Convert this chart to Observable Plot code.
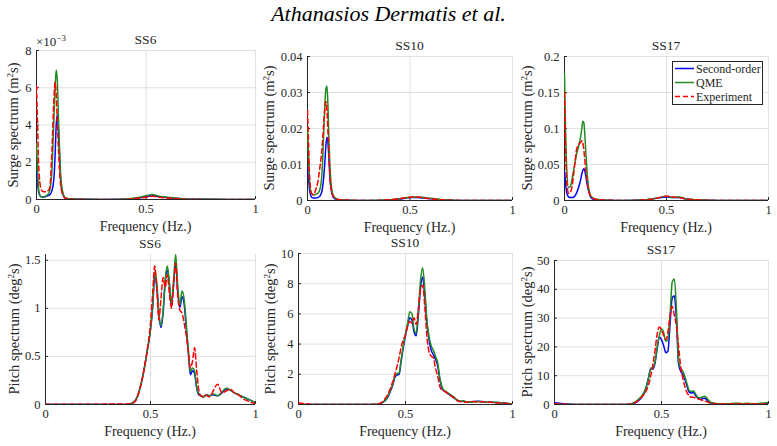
<!DOCTYPE html>
<html>
<head>
<meta charset="utf-8">
<script src="https://cdn.jsdelivr.net/npm/d3@7"></script>
<script src="https://cdn.jsdelivr.net/npm/@observablehq/plot@0.6"></script>
<style>
  body { margin: 0; background: #fff; }
  #fig { position: relative; width: 777px; height: 446px; overflow: hidden; background: #fff;
         font-family: "Liberation Serif", serif; color: #262626; }
  .txt { position: absolute; white-space: nowrap; line-height: 1; transform: translate(-50%, -50%); }
  .ylab { transform: translate(-50%, -50%) rotate(-90deg); }
  .panel { position: absolute; }
  .legend { position: absolute; box-sizing: border-box; background: #fff; border: 1px solid #262626; }
</style>
</head>
<body>
<div id="fig"></div>
<script>
// ---- Surge spectra (top row) ----
const fSurge = [0, 0.005, 0.01, 0.02, 0.03, 0.04, 0.05, 0.06, 0.07, 0.08, 0.085, 0.09, 0.095, 0.1, 0.105, 0.11, 0.12, 0.13, 0.15, 0.2, 0.3, 0.4, 0.45, 0.5, 0.53, 0.56, 0.6, 0.65, 0.7, 0.8, 0.9, 1.0];

// SS6 surge, in units of 1e-3 m^2 s
const ss6SurgeSecond = [1.5, 0.9, 0.4, 0.15, 0.12, 0.15, 0.2, 0.25, 0.45, 1.2, 2.4, 4.0, 4.55, 3.8, 2.4, 1.1, 0.3, 0.08, 0.03, 0.01, 0, 0.01, 0.05, 0.15, 0.2, 0.15, 0.1, 0.05, 0.02, 0.01, 0.005, 0];
const ss6SurgeQME    = [3.0, 1.5, 0.5, 0.15, 0.12, 0.18, 0.25, 0.45, 1.5, 4.5, 6.0, 6.95, 6.4, 4.5, 2.8, 1.4, 0.4, 0.12, 0.04, 0.01, 0, 0.02, 0.08, 0.2, 0.27, 0.18, 0.12, 0.06, 0.02, 0.01, 0.005, 0];
const ss6SurgeExp    = [6.1, 4.0, 1.8, 0.6, 0.42, 0.42, 0.45, 0.6, 2.5, 5.5, 6.3, 5.6, 4.2, 2.8, 1.6, 0.8, 0.25, 0.08, 0.03, 0.01, 0, 0.01, 0.05, 0.12, 0.17, 0.12, 0.08, 0.04, 0.01, 0.005, 0, 0];

// SS10 surge, m^2 s
const ss10SurgeSecond = [0.009, 0.006, 0.003, 0.0009, 0.0007, 0.0007, 0.0008, 0.0012, 0.0025, 0.007, 0.011, 0.0155, 0.0176, 0.016, 0.011, 0.006, 0.0018, 0.0006, 0.0002, 0.0001, 0, 0.0001, 0.0004, 0.0008, 0.0008, 0.0007, 0.0005, 0.0002, 0.0001, 0, 0, 0];
const ss10SurgeQME    = [0.02, 0.012, 0.005, 0.0018, 0.0015, 0.0017, 0.002, 0.003, 0.007, 0.02, 0.027, 0.031, 0.0318, 0.026, 0.016, 0.009, 0.0025, 0.001, 0.0003, 0.0001, 0, 0.0002, 0.0005, 0.0009, 0.001, 0.0009, 0.0006, 0.0003, 0.0001, 0, 0, 0];
const ss10SurgeExp    = [0.025, 0.016, 0.007, 0.002, 0.0016, 0.003, 0.005, 0.009, 0.014, 0.022, 0.026, 0.0275, 0.025, 0.019, 0.012, 0.006, 0.002, 0.0008, 0.0003, 0.0001, 0, 0.0002, 0.0005, 0.0009, 0.001, 0.0008, 0.0005, 0.0002, 0.0001, 0, 0, 0];

// SS17 surge, m^2 s
const ss17SurgeSecond = [0.04, 0.025, 0.012, 0.005, 0.004, 0.004, 0.006, 0.011, 0.019, 0.03, 0.037, 0.042, 0.044, 0.041, 0.033, 0.024, 0.011, 0.004, 0.001, 0.0003, 0, 0.001, 0.003, 0.005, 0.004, 0.004, 0.002, 0.0008, 0.0003, 0, 0, 0];
const ss17SurgeQME    = [0.176, 0.1, 0.05, 0.018, 0.02, 0.035, 0.05, 0.065, 0.076, 0.09, 0.1, 0.11, 0.108, 0.09, 0.065, 0.042, 0.015, 0.006, 0.002, 0.0005, 0, 0.001, 0.003, 0.006, 0.004, 0.005, 0.002, 0.001, 0.0003, 0, 0, 0];
const ss17SurgeExp    = [0.15, 0.08, 0.03, 0.01, 0.012, 0.025, 0.05, 0.072, 0.078, 0.081, 0.083, 0.08, 0.07, 0.055, 0.04, 0.028, 0.012, 0.005, 0.002, 0.0005, 0, 0.001, 0.003, 0.006, 0.005, 0.004, 0.002, 0.001, 0.0003, 0, 0, 0];

// ---- Pitch spectra (bottom row), deg^2 s ----
const fPitch = [0, 0.1, 0.2, 0.3, 0.35, 0.36, 0.37, 0.38, 0.39, 0.40,
                0.41, 0.42, 0.43, 0.44, 0.45, 0.46, 0.47, 0.48, 0.49, 0.50,
                0.51, 0.52, 0.53, 0.54, 0.55, 0.56, 0.57, 0.58, 0.59, 0.60,
                0.61, 0.62, 0.63, 0.64, 0.65, 0.66, 0.67, 0.68, 0.69, 0.70,
                0.71, 0.72, 0.73, 0.74, 0.75, 0.76, 0.77, 0.78, 0.79, 0.80,
                0.82, 0.84, 0.86, 0.88, 0.90, 0.92, 0.94, 0.96, 0.98, 1.0];

const ss6PitchSecond = [0, 0, 0, 0, 0, 0, 0, 0.001, 0.002, 0.005,
                        0.012, 0.025, 0.05, 0.1, 0.17, 0.26, 0.37, 0.5, 0.63, 0.78,
                        1.0, 1.33, 1.22, 0.93, 0.8, 0.95, 1.27, 1.4, 1.24, 1.02,
                        1.25, 1.48, 1.16, 1.01, 1.12, 1.05, 0.8, 0.54, 0.31, 0.35,
                        0.32, 0.17, 0.1, 0.09, 0.08, 0.09, 0.1, 0.09, 0.1, 0.1,
                        0.09, 0.12, 0.16, 0.15, 0.12, 0.1, 0.08, 0.06, 0.04, 0.02];
const ss6PitchQME    = [0, 0, 0, 0, 0, 0, 0, 0.001, 0.002, 0.005,
                        0.012, 0.025, 0.05, 0.1, 0.17, 0.26, 0.37, 0.5, 0.63, 0.78,
                        1.02, 1.38, 1.27, 0.95, 0.82, 0.98, 1.3, 1.44, 1.27, 1.05,
                        1.3, 1.56, 1.22, 1.04, 1.18, 1.1, 0.85, 0.57, 0.34, 0.38,
                        0.35, 0.18, 0.11, 0.09, 0.08, 0.09, 0.1, 0.09, 0.1, 0.11,
                        0.09, 0.13, 0.17, 0.15, 0.12, 0.1, 0.08, 0.06, 0.04, 0.02];
const ss6PitchExp    = [0.002, 0.002, 0.003, 0.004, 0.004, 0.004, 0.005, 0.004, 0.005, 0.007,
                        0.01, 0.02, 0.04, 0.09, 0.17, 0.26, 0.37, 0.5, 0.65, 0.85,
                        1.15, 1.44, 1.2, 0.88, 1.1, 1.32, 1.22, 1.35, 1.15, 1.0,
                        1.25, 1.47, 1.12, 0.98, 0.95, 0.85, 0.72, 0.55, 0.38, 0.45,
                        0.59, 0.35, 0.15, 0.09, 0.08, 0.1, 0.09, 0.08, 0.1, 0.15,
                        0.21, 0.12, 0.14, 0.16, 0.12, 0.1, 0.06, 0.04, 0.02, 0.01];

const ss10PitchSecond = [0, 0, 0, 0, 0, 0, 0.02, 0.05, 0.11, 0.2,
                         0.33, 0.55, 0.9, 1.25, 1.8, 1.95, 2.0, 2.9, 3.8, 4.6,
                         5.2, 5.75, 5.6, 4.8, 4.55, 5.9, 7.7, 8.45, 7.2, 5.4,
                         4.3, 3.6, 3.3, 3.0, 2.6, 1.7, 1.1, 0.9, 0.8, 0.7,
                         0.6, 0.5, 0.4, 0.28, 0.22, 0.2, 0.22, 0.18, 0.15, 0.15,
                         0.2, 0.22, 0.18, 0.15, 0.15, 0.14, 0.12, 0.1, 0.06, 0.04];
const ss10PitchQME    = [0, 0, 0, 0, 0, 0, 0.02, 0.05, 0.12, 0.22,
                         0.35, 0.6, 0.95, 1.3, 1.85, 2.05, 2.1, 3.0, 3.9, 4.7,
                         5.4, 6.15, 6.0, 5.0, 4.7, 6.2, 8.2, 9.05, 7.7, 5.6,
                         4.5, 3.9, 3.6, 3.2, 2.8, 1.8, 1.2, 0.95, 0.85, 0.75,
                         0.65, 0.55, 0.45, 0.3, 0.25, 0.22, 0.25, 0.2, 0.15, 0.15,
                         0.18, 0.2, 0.18, 0.15, 0.15, 0.15, 0.12, 0.1, 0.06, 0.04];
const ss10PitchExp    = [0.1, 0, 0, 0, 0.01, 0.02, 0.04, 0.08, 0.15, 0.3,
                         0.5, 0.75, 1.1, 1.5, 2.0, 2.5, 3.1, 3.8, 4.3, 4.6,
                         5.2, 5.5, 5.4, 5.75, 5.3, 6.3, 7.6, 7.9, 6.5, 4.5,
                         3.5, 3.2, 3.1, 2.4, 1.9, 1.2, 0.95, 0.9, 0.8, 0.7,
                         0.6, 0.5, 0.4, 0.3, 0.2, 0.2, 0.18, 0.15, 0.15, 0.2,
                         0.2, 0.15, 0.2, 0.15, 0.15, 0.1, 0.1, 0.08, 0.05, 0.03];

const ss17PitchSecond = [0.6, 0, 0, 0, 0.1, 0.2, 0.4, 0.7, 1.2, 1.8,
                         2.8, 4.2, 6.3, 9.5, 12.5, 12.3, 14.5, 19.5, 23.4, 22.5,
                         20.5, 18, 18.5, 28, 37, 37.8, 29, 14, 11.5, 10.5,
                         8.5, 6.2, 4.2, 4.0, 4.2, 3.0, 2.2, 1.8, 2.0, 2.2,
                         1.8, 1.0, 0.6, 0.4, 0.3, 0.3, 0.3, 0.3, 0.3, 0.3,
                         0.3, 0.3, 0.3, 0.3, 0.3, 0.3, 0.3, 0.3, 0.3, 0.4];
const ss17PitchQME    = [0.3, 0, 0, 0, 0.1, 0.3, 0.6, 1.0, 1.6, 2.3,
                         3.2, 4.5, 6.5, 9.5, 12.5, 12.8, 15, 20, 24, 26.2,
                         25, 22, 22.5, 31, 42.5, 43.6, 33, 15, 12.5, 11.5,
                         9.5, 7.0, 4.8, 4.5, 4.8, 3.5, 2.5, 2.3, 2.6, 2.9,
                         2.4, 1.5, 0.8, 0.5, 0.4, 0.3, 0.3, 0.3, 0.3, 0.3,
                         0.3, 0.4, 0.4, 0.3, 0.4, 0.3, 0.3, 0.4, 0.5, 0.7];
const ss17PitchExp    = [0.3, 0, 0, 0, 0.1, 0.2, 0.4, 0.8, 1.3, 2.0,
                         2.8, 3.7, 5.0, 7.0, 10.0, 14.0, 19.0, 24.5, 26.9, 26.0,
                         24.0, 22.5, 25.0, 31.0, 34.0, 31.0, 27.0, 20.0, 13.0, 9.0,
                         6.0, 4.0, 3.0, 2.5, 2.5, 2.2, 2.0, 1.7, 1.5, 1.3,
                         1.0, 0.7, 0.5, 0.4, 0.3, 0.3, 0.3, 0.3, 0.2, 0.2,
                         0.2, 0.3, 0.2, 0.3, 0.2, 0.3, 0.2, 0.2, 0.2, 0.2];

// ---- Labels and ticks ----
const seriesNames = ["Second-order", "QME", "Experiment"];
const seriesColors = ["#0000ff", "#228b22", "#ff0000"];
const xTicks = [0, 0.5, 1];
const heading = "Athanasios Dermatis et al.";
const xLabel = "Frequency (Hz.)";
const surgeLabel = "Surge spectrum (m²s)";
const pitchLabel = "Pitch spectrum (deg²s)";

const fmt = d3.format("~g");
const serifFont = '"Liberation Serif", serif';

// Axes boxes in page pixels: [left, right, top, bottom]
const panels = [
  {title: "SS6",  ylabel: surgeLabel, f: fSurge, series: [ss6SurgeSecond, ss6SurgeQME, ss6SurgeExp],
   yDomain: [0, 8], yTicks: [0, 2, 4, 6, 8], box: [36, 255, 50, 199], ylabX: 13},
  {title: "SS10", ylabel: surgeLabel, f: fSurge, series: [ss10SurgeSecond, ss10SurgeQME, ss10SurgeExp],
   yDomain: [0, 0.04], yTicks: [0, 0.01, 0.02, 0.03, 0.04], box: [307, 512, 56, 200], ylabX: 268.5},
  {title: "SS17", ylabel: surgeLabel, f: fSurge, series: [ss17SurgeSecond, ss17SurgeQME, ss17SurgeExp],
   yDomain: [0, 0.2], yTicks: [0, 0.05, 0.1, 0.15, 0.2], box: [564, 768, 56, 200], ylabX: 526.5, legend: true},
  {title: "SS6",  ylabel: pitchLabel, f: fPitch, series: [ss6PitchSecond, ss6PitchQME, ss6PitchExp],
   yDomain: [0, d3.max([ss6PitchSecond, ss6PitchQME, ss6PitchExp].flat())], yTicks: [0, 0.5, 1, 1.5], box: [45, 255, 254, 404], ylabX: 14},
  {title: "SS10", ylabel: pitchLabel, f: fPitch, series: [ss10PitchSecond, ss10PitchQME, ss10PitchExp],
   yDomain: [0, 10], yTicks: [0, 2, 4, 6, 8, 10], box: [298, 512, 253, 404], ylabX: 270},
  {title: "SS17", ylabel: pitchLabel, f: fPitch, series: [ss17PitchSecond, ss17PitchQME, ss17PitchExp],
   yDomain: [0, 50], yTicks: [0, 10, 20, 30, 40, 50], box: [554, 768, 260, 404], ylabX: 527}
];

const fig = document.getElementById("fig");

function addText(text, x, y, size, cls = "", extra = "") {
  const el = document.createElement("div");
  el.className = "txt " + cls;
  el.style.left = x + "px";
  el.style.top = y + "px";
  el.style.fontSize = size + "px";
  el.style.fontFamily = serifFont;
  if (extra) el.style.cssText += extra;
  el.innerHTML = text;
  fig.appendChild(el);
  return el;
}

addText(heading, 388.5, 14, 22, "", "font-style:italic;color:#000;");

const gridColor = "#e1e1e1";
const axisColor = "#262626";

for (const p of panels) {
  const [x0, x1, y0, y1] = p.box;
  const w = x1 - x0, h = y1 - y0;
  const mL = 44, mR = 10, mT = 8, mB = 22;

  const rows = [];
  p.series.forEach((vals, k) => vals.forEach((v, i) => rows.push({f: p.f[i], v, s: seriesNames[k]})));

  const lineMarks = seriesNames.map((name, k) =>
    Plot.line(rows.filter(r => r.s === name), {
      x: "f", y: "v", stroke: seriesColors[k], strokeWidth: 1.5,
      strokeDasharray: k === 2 ? "5,3" : null, curve: "monotone-x", clip: true
    })
  );

  const chart = Plot.plot({
    width: w + mL + mR, height: h + mT + mB,
    marginLeft: mL, marginRight: mR, marginTop: mT, marginBottom: mB,
    style: {fontFamily: serifFont, fontSize: "12.5px", color: axisColor, background: "transparent", overflow: "visible"},
    x: {domain: [0, 1], label: null},
    y: {domain: p.yDomain, label: null},
    marks: [
      Plot.gridX(xTicks, {stroke: gridColor, strokeOpacity: 1, strokeWidth: 1}),
      Plot.gridY(p.yTicks, {stroke: gridColor, strokeOpacity: 1, strokeWidth: 1}),
      Plot.ruleX([0], {stroke: axisColor, strokeWidth: 1}),
      Plot.ruleY([0], {stroke: axisColor, strokeWidth: 1}),
      Plot.tickX(xTicks, {x: d => d, stroke: axisColor, insetTop: h - 3}),
      Plot.tickY(p.yTicks, {y: d => d, stroke: axisColor, insetRight: w - 3}),
      Plot.axisX({ticks: xTicks, tickSize: 0, tickPadding: 5, tickFormat: fmt, fill: axisColor, fontFamily: serifFont}),
      Plot.axisY({ticks: p.yTicks, tickSize: 0, tickPadding: 5, tickFormat: fmt, fill: axisColor, fontFamily: serifFont}),
      ...lineMarks
    ]
  });
  chart.classList.add("panel");
  chart.style.left = (x0 - mL) + "px";
  chart.style.top = (y0 - mT) + "px";
  chart.style.fontFamily = serifFont;
  fig.appendChild(chart);

  addText(p.title, (x0 + x1) / 2, y0 - 10.5, 13.5);
  addText(xLabel, (x0 + x1) / 2, y1 + 27.5, 14);
  addText(p.ylabel.replace("²", "<sup style='font-size:9px;vertical-align:5px'>2</sup>"), p.ylabX, (y0 + y1) / 2, 14.5, "ylab");

  if (p.legend) {
    const lg = document.createElement("div");
    lg.className = "legend";
    lg.style.cssText += `left:${x1 - 96}px;top:${y0 + 5}px;width:91px;height:44px;`;
    const svgNS = "http://www.w3.org/2000/svg";
    const svg = document.createElementNS(svgNS, "svg");
    svg.setAttribute("width", 89);
    svg.setAttribute("height", 42);
    svg.style.display = "block";
    seriesNames.forEach((name, k) => {
      const cy = 6.5 + k * 14;
      const ln = document.createElementNS(svgNS, "line");
      ln.setAttribute("x1", 2); ln.setAttribute("x2", 21);
      ln.setAttribute("y1", cy); ln.setAttribute("y2", cy);
      ln.setAttribute("stroke", seriesColors[k]);
      ln.setAttribute("stroke-width", 1.5);
      if (k === 2) ln.setAttribute("stroke-dasharray", "5,3");
      svg.appendChild(ln);
      const tx = document.createElementNS(svgNS, "text");
      tx.setAttribute("x", 23); tx.setAttribute("y", cy);
      tx.setAttribute("dy", "0.35em");
      tx.setAttribute("font-family", serifFont);
      tx.setAttribute("font-size", 12);
      tx.setAttribute("fill", axisColor);
      tx.textContent = name;
      svg.appendChild(tx);
    });
    lg.appendChild(svg);
    fig.appendChild(lg);
  }
}

// Exponent of the SS6 surge axis
const expo = document.createElement("div");
expo.style.cssText = "position:absolute;left:36px;top:34px;font-size:13px;line-height:1;white-space:nowrap;";
expo.style.fontFamily = serifFont;
expo.innerHTML = "×10<sup style='font-size:9px;vertical-align:5px'>−3</sup>";
fig.appendChild(expo);
</script>
</body>
</html>
